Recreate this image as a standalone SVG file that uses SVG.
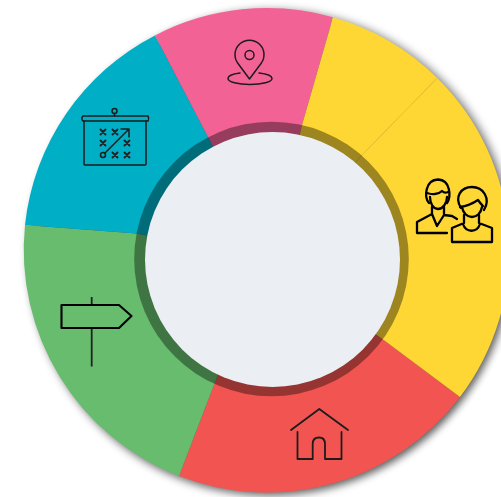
<svg xmlns="http://www.w3.org/2000/svg" width="501" height="497" viewBox="0 0 501 497">
<defs>
<filter id="sh" x="-20%" y="-20%" width="140%" height="140%"><feGaussianBlur stdDeviation="4.500"/></filter>
<clipPath id="page"><rect width="501" height="497"/></clipPath>
</defs>
<style>
.i{fill:none;stroke:#1c1c1c;stroke-width:1.500;stroke-linecap:round;stroke-linejoin:round}
.b{fill:none;stroke:#000;stroke-width:2.300;stroke-linejoin:round;stroke-linecap:round}
.x{fill:none;stroke:#222;stroke-width:1.900}
</style>
<rect width="501" height="497" fill="#fff"/>
<g id="connectors"></g>
<g clip-path="url(#page)">
<circle cx="269" cy="255" r="241" fill="#000" opacity=".5" filter="url(#sh)"/>
<circle cx="273" cy="250" r="241" fill="#000" opacity=".32" filter="url(#sh)"/>
<g id="segment-red"><path d="M460 397A242.500 242.500 0 0 1 179 476L217 377L272 260L381 338Z" fill="#f25551"/></g>
<g id="segment-green"><path d="M179 476A242.500 242.500 0 0 1 25 225L136.500 233.500L272 260L217 377Z" fill="#67bc6d"/></g>
<g id="segment-teal"><path d="M25 225A242.500 242.500 0 0 1 155 35.400L208 137L272 260L136.500 233.500Z" fill="#00aec5"/></g>
<g id="segment-pink"><path d="M155 35.400A242.500 242.500 0 0 1 333 17.200L302 125L272 260L208 137Z" fill="#f36295"/></g>
<g id="segment-yellow-a"><path d="M333 17.200A242.500 242.500 0 0 1 437.300 78L362 155L272 260L302 125Z" fill="#fed734"/></g>
<g id="segment-yellow-b"><path d="M437.300 78A242.500 242.500 0 0 1 460 397L381 338L272 260L362 155Z" fill="#fed734"/></g>
<path d="M437.300 78L362 155" stroke="#e8c434" stroke-width="1" fill="none"/>
<g id="hub">
<circle cx="271.500" cy="259" r="137.300" fill="#000" opacity=".38"/>
<circle cx="272.500" cy="259.500" r="127.500" fill="#ebeef2"/>
</g>
</g>
<g id="icon-pin" class="i">
<path d="M249.500 79L238 63.500A14.500 14.500 0 1 1 261 63.500Z"/>
<circle cx="249.500" cy="55" r="4.500"/>
<path d="M240 73C232 74 228 76 228 78.500C228 82 238 84.500 250 84.500C262 84.500 272 82 272 78.500C272 76 268 74 259 73"/>
</g>
<g id="icon-board" class="i">
<circle cx="114.500" cy="111" r="2.500"/>
<path d="M114.500 113.500V116"/>
<path d="M83 116H148Q149.500 118.500 148 121H83Q80.500 118.500 83 116Z"/>
<path d="M84 121V164Q84 165 85 165H145Q146 165 146 164V121"/>
<circle cx="103" cy="155" r="2.500"/>
<path d="M105 153L129 129M121 129H129V137"/>
<g class="x"><path d="M100.500 129.500L105.500 134.500M105.500 129.500L100.500 134.500M112.500 129.500L117.500 134.500M117.500 129.500L112.500 134.500M100.500 140.500L105.500 145.500M105.500 140.500L100.500 145.500M124.500 140.500L129.500 145.500M129.500 140.500L124.500 145.500M112.500 152.500L117.500 157.500M117.500 152.500L112.500 157.500M124.500 152.500L129.500 157.500M129.500 152.500L124.500 157.500"/></g>
</g>
<g id="icon-people" class="b">
<path d="M429 203C424 197 425 180 438 179.500C451 180 451 197 447 203"/>
<path d="M427 193C433 195 439 194 442 191C444 193 446 193 448 192"/>
<path d="M430 197C430 203 433 209 438 209C443 209 447 203 447 197"/>
<path d="M432 207V214L417 222V233H447M444 207V215L437 226L432 214M444 215L452 216L457 219"/>
<path d="M461 208C454 197 461 187 472 187C483 187 491 198 484 210"/>
<path d="M460 207C467 206 472 204 478 200C480 203 482 205 483 206"/>
<path d="M462 207C463 213 467 217 472 217C477 217 481 213 482 207"/>
<path d="M464 215V223L452 228V242H492V228L479 223V215M463 224C466 233 477 233 480 224"/>
</g>
<g id="icon-sign">
<path d="M91.700 297V305M91.700 328V366.500" fill="none" stroke="#222" stroke-width="1.800"/>
<path d="M61.500 305H119L131.500 316L119 328H61.500Z" fill="none" stroke="#000" stroke-width="2.100" stroke-linejoin="round"/>
</g>
<g id="icon-house" class="i" style="stroke-width:1.800">
<path d="M291 430L319.300 409L348 430"/>
<path d="M297.500 432V459H312.700V444Q312.700 437.500 319 437.500Q325 437.500 325 444V459H341.500V432"/>
</g>
</svg>
